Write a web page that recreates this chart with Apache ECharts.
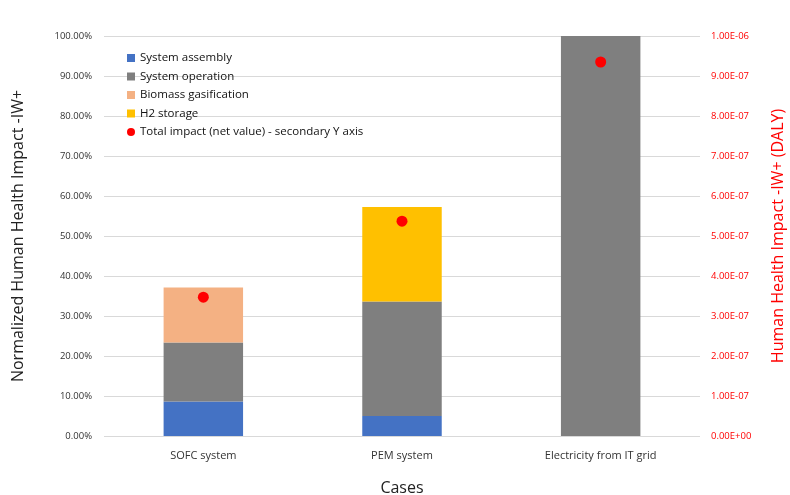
<!DOCTYPE html>
<html><head><meta charset="utf-8">
<script src="https://cdn.jsdelivr.net/npm/echarts@6/dist/echarts.min.js"></script>
<style>html,body{margin:0;padding:0;background:#fff}#c{width:790px;height:495px}</style>
</head><body><div id="c"></div>
<script>
const categories = ['SOFC system', 'PEM system', 'Electricity from IT grid'];
const systemAssembly = [8.6, 5.0, 0];
const systemOperation = [14.8, 28.6, 100];
const biomassGasification = [13.7, 0, 0];
const h2Storage = [0, 23.65, 0];
const totalImpact = [3.47e-7, 5.37e-7, 9.35e-7];

const FONT = 'Open Sans';
const chart = echarts.init(document.getElementById('c'));
function fmtE(v) {
  let s = Number(v).toExponential(2).toUpperCase();
  return s.replace(/E([+-])(\d)$/, 'E$10$2');
}
const barCommon = { type: 'bar', stack: 'total', barWidth: '40%', yAxisIndex: 0 };
chart.setOption({
  animation: false,
  textStyle: { fontFamily: FONT },
  grid: { left: 104, right: 90, top: 36, bottom: 59, outerBoundsMode: 'none', containLabel: false },
  legend: {
    orient: 'vertical', left: 122, top: 47,
    itemWidth: 8, itemHeight: 8, itemGap: 6.5,
    textStyle: { fontSize: 11.5, color: '#111', fontFamily: FONT },
    data: [
      { name: 'System assembly', icon: 'rect' },
      { name: 'System operation', icon: 'rect' },
      { name: 'Biomass gasification', icon: 'rect' },
      { name: 'H2 storage', icon: 'rect' },
      { name: 'Total impact (net value) - secondary Y axis', icon: 'circle' }
    ]
  },
  xAxis: {
    type: 'category', data: categories,
    name: 'Cases', nameLocation: 'middle', nameGap: 44,
    nameTextStyle: { fontSize: 16, color: '#222', fontFamily: FONT },
    axisLine: { show: false }, axisTick: { show: false },
    axisLabel: { fontSize: 11, color: '#333', margin: 14 }
  },
  yAxis: [{
    type: 'value', min: 0, max: 100, interval: 10,
    name: 'Normalized Human Health Impact -IW+', nameLocation: 'middle', nameGap: 78,
    nameTextStyle: { fontSize: 16, color: '#222', fontFamily: FONT },
    axisLabel: { fontSize: 9.5, color: '#333', formatter: v => v.toFixed(2) + '%', margin: 12 },
    splitLine: { lineStyle: { color: '#D9D9D9' } },
    axisLine: { show: false }, axisTick: { show: false }
  }, {
    type: 'value', min: 0, max: 1e-6, interval: 1e-7,
    name: 'Human Health Impact -IW+ (DALY)', nameLocation: 'middle', nameGap: 70, nameRotate: 90,
    nameTextStyle: { fontSize: 16, color: '#FF0000', fontFamily: FONT },
    axisLabel: { fontSize: 9.5, color: '#FF0000', formatter: fmtE, margin: 11 },
    splitLine: { show: false }, axisLine: { show: false }, axisTick: { show: false }
  }],
  series: [
    Object.assign({ name: 'System assembly', data: systemAssembly, itemStyle: { color: '#4472C4' } }, barCommon),
    Object.assign({ name: 'System operation', data: systemOperation, itemStyle: { color: '#7F7F7F' } }, barCommon),
    Object.assign({ name: 'Biomass gasification', data: biomassGasification, itemStyle: { color: '#F4B183' } }, barCommon),
    Object.assign({ name: 'H2 storage', data: h2Storage, itemStyle: { color: '#FFC000' } }, barCommon),
    { name: 'Total impact (net value) - secondary Y axis', type: 'scatter', yAxisIndex: 1,
      data: totalImpact, symbolSize: 11, itemStyle: { color: '#FF0000', opacity: 1 }, z: 10 }
  ]
});
</script></body></html>
